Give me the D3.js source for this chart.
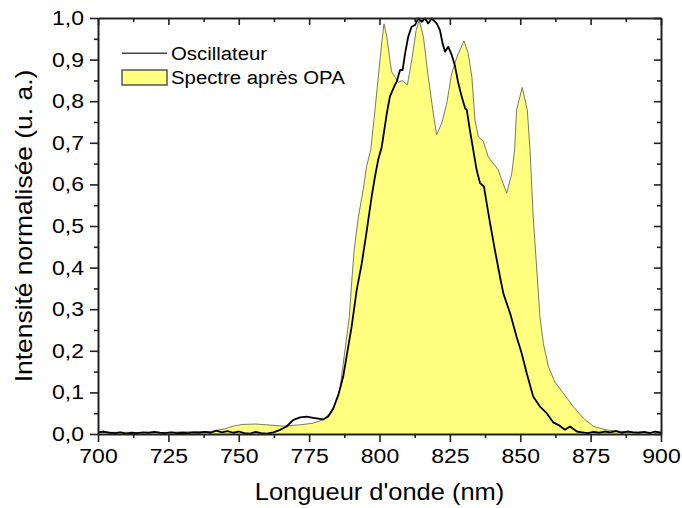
<!DOCTYPE html>
<html><head><meta charset="utf-8">
<script src="https://cdn.jsdelivr.net/npm/d3@7"></script>
<style>body{margin:0;background:#fff}svg{display:block}text{font-family:"Liberation Sans",Arial,sans-serif;fill:#000}</style>
</head><body><svg id="c" width="682" height="508"></svg>
<script>
const xTicks = [700,725,750,775,800,825,850,875,900];
const yTicks = [0,0.1,0.2,0.3,0.4,0.5,0.6,0.7,0.8,0.9,1.0];
const seriesNames = ["Oscillateur","Spectre après OPA"];
const xTitle = "Longueur d'onde (nm)";
const yTitle = "Intensité normalisée (u. a.)";

const opaWl = [700,710,720,730,740,745,748,751.5,756,760,765.7,771.8,776.4,779.9,783.5,786,787.7,789.3,790.1,791,792.5,794.2,795.4,796.9,798.4,799.6,800.8,801.6,802.6,803.7,804.3,806.7,808,809.9,811.5,813,814.1,815.6,817.3,819.1,820.3,822.1,823.9,825.6,827.4,830,831.5,832.8,833.9,835.1,836.9,838.6,839.3,842.2,843.4,845.2,847,848,848.7,850.7,852.5,853.5,854.6,855.8,857,858.2,860,862.3,865.3,868.8,872.4,876,880.7,886.5,890,895,900];
const opaVal = [0.004,0.004,0.003,0.005,0.006,0.012,0.019,0.023,0.024,0.022,0.019,0.022,0.026,0.034,0.058,0.11,0.2,0.282,0.363,0.442,0.522,0.587,0.643,0.683,0.779,0.86,0.94,0.986,0.955,0.899,0.871,0.845,0.85,0.839,0.9,0.97,0.995,0.955,0.859,0.771,0.719,0.747,0.795,0.865,0.905,0.945,0.915,0.859,0.755,0.715,0.703,0.667,0.66,0.635,0.611,0.579,0.627,0.683,0.779,0.833,0.779,0.68,0.522,0.402,0.282,0.218,0.162,0.125,0.098,0.066,0.038,0.018,0.0096,0.006,0.005,0.004,0.004];

const oscWl = [700,702,704,706,708,710,712,714,716,718,720,722,724,726,728,730,732,734,736,738,740,742,744,746,748,750,752,754,756,758,760,762.3,764.7,767,769.4,771.8,774.1,776.5,780,781.8,783.6,785.4,787.1,788.3,790.1,791.9,793.7,795.5,797.2,798.4,799.6,800.8,802.6,803.7,805.2,806.1,807.3,808.2,809.1,810.2,811.4,812.6,813.8,815,816.2,817.3,818.5,820.3,821.5,822.4,823.3,824.4,825.6,826.8,828,829.2,830.4,831,832.1,833.3,834.5,835.7,837.1,838.1,839.3,841,842.8,844,846.4,848.7,850.5,852.3,854.6,857,859.4,861.7,863.5,865.9,867.7,870.1,872,874,876,878,880,882,884,886,888,890,892,894,896,898,900];
const oscVal = [0.004,0.006,0.003,0.002,0.004,0.001,0.003,0.002,0.004,0.003,0.005,0.003,0.002,0.004,0.002,0.003,0.002,0.004,0.003,0.005,0.003,0.008,0.004,0.007,0.003,0.006,0.002,0.001,0.005,0.002,0.001,0.004,0.01,0.018,0.034,0.04,0.042,0.039,0.035,0.042,0.062,0.094,0.138,0.186,0.258,0.346,0.41,0.49,0.57,0.619,0.661,0.69,0.771,0.811,0.835,0.847,0.875,0.875,0.915,0.955,0.979,0.983,0.999,0.991,0.999,0.987,0.999,0.987,0.97,0.939,0.919,0.931,0.912,0.885,0.843,0.811,0.783,0.779,0.731,0.683,0.635,0.603,0.595,0.554,0.506,0.442,0.378,0.338,0.29,0.234,0.194,0.146,0.09,0.066,0.05,0.028,0.022,0.01,0.018,0.006,0.004,0.002,0.005,0.003,0.006,0.004,0.007,0.003,0.006,0.004,0.003,0.005,0.002,0.006,0.003];

const svg = d3.select("#c");
const L=98, R=661, T=18, B=434;
const x = d3.scaleLinear().domain([700,900]).range([L,R]);
const y = d3.scaleLinear().domain([0,1]).range([B,T]);
const fmt = d => d3.format(".1f")(d).replace(".",",");

const opa = opaWl.map((w,i)=>[w,opaVal[i]]);
const osc = oscWl.map((w,i)=>[w,oscVal[i]]);

svg.append("path").datum(opa)
  .attr("d", d3.area().x(d=>x(d[0])).y0(y(0)).y1(d=>y(d[1])))
  .attr("fill","#ffff80").attr("stroke","none");
svg.append("path").datum(opa)
  .attr("d", d3.line().x(d=>x(d[0])).y(d=>y(d[1])))
  .attr("fill","none").attr("stroke","#7a7a60").attr("stroke-width",1);
svg.append("path").datum(osc)
  .attr("d", d3.line().x(d=>x(d[0])).y(d=>y(d[1])))
  .attr("fill","none").attr("stroke","#000").attr("stroke-width",1.8).attr("stroke-linejoin","round");

const xMinor = d3.range(712.5,900,25);
const yMinor = d3.range(0.05,1,0.1);
function styleAxis(g){ g.select(".domain").attr("stroke","#222").attr("stroke-width",2); g.selectAll(".tick line").attr("stroke","#222").attr("stroke-width",1.6); }

// bottom
const gb = svg.append("g").attr("transform",`translate(0,${B})`).call(d3.axisBottom(x).tickValues(xTicks).tickSize(8).tickSizeOuter(0).tickPadding(7).tickFormat(d3.format("d")));
svg.append("g").attr("transform",`translate(0,${B})`).call(d3.axisBottom(x).tickValues(xMinor).tickSize(4).tickSizeOuter(0).tickFormat("")).call(g=>g.select(".domain").remove()).selectAll("line").attr("stroke","#222").attr("stroke-width",1.6);
// left
const gl = svg.append("g").attr("transform",`translate(${L},0)`).call(d3.axisLeft(y).tickValues(yTicks).tickSize(8).tickSizeOuter(0).tickPadding(6).tickFormat(fmt));
svg.append("g").attr("transform",`translate(${L},0)`).call(d3.axisLeft(y).tickValues(yMinor).tickSize(4).tickSizeOuter(0).tickFormat("")).call(g=>g.select(".domain").remove()).selectAll("line").attr("stroke","#222").attr("stroke-width",1.6);
// top (inward)
const gt = svg.append("g").attr("transform",`translate(0,${T})`).call(d3.axisBottom(x).tickValues(xTicks).tickSize(7).tickSizeOuter(0).tickFormat(""));
svg.append("g").attr("transform",`translate(0,${T})`).call(d3.axisBottom(x).tickValues(xMinor).tickSize(4).tickSizeOuter(0).tickFormat("")).call(g=>g.select(".domain").remove()).selectAll("line").attr("stroke","#222").attr("stroke-width",1.6);
// right (inward)
const gr = svg.append("g").attr("transform",`translate(${R},0)`).call(d3.axisLeft(y).tickValues(yTicks).tickSize(7).tickSizeOuter(0).tickFormat(""));
svg.append("g").attr("transform",`translate(${R},0)`).call(d3.axisLeft(y).tickValues(yMinor).tickSize(4).tickSizeOuter(0).tickFormat("")).call(g=>g.select(".domain").remove()).selectAll("line").attr("stroke","#222").attr("stroke-width",1.6);
[gb,gl,gt,gr].forEach(styleAxis);
svg.selectAll(".tick text").attr("font-size",20).attr("font-family","'Liberation Sans',Arial,sans-serif").attr("fill","#000");
gt.selectAll(".tick text").remove(); gr.selectAll(".tick text").remove();

// stretch helper
function stretch(sel,f){ sel.each(function(){ const w=this.getComputedTextLength(); d3.select(this).attr("textLength",w*f).attr("lengthAdjust","spacingAndGlyphs"); }); }
stretch(gb.selectAll(".tick text"),1.15);
stretch(gl.selectAll(".tick text"),1.15);

// titles
const xt = svg.append("text").attr("x",(L+R)/2).attr("y",500).attr("text-anchor","middle").attr("font-size",24).text(xTitle);
stretch(xt,1.06);
const yt = svg.append("text").attr("transform",`translate(32,${(T+B)/2}) rotate(-90)`).attr("text-anchor","middle").attr("font-size",24).text(yTitle);
stretch(yt,1.10);

// legend
const lg = svg.append("g");
lg.append("line").attr("x1",122).attr("x2",167).attr("y1",y(0.915)).attr("y2",y(0.915)).attr("stroke","#444").attr("stroke-width",1.5);
lg.append("rect").attr("x",122).attr("y",70).attr("width",45).attr("height",15).attr("fill","#ffff80").attr("stroke","#555").attr("stroke-width",1.5);
const t1 = lg.append("text").attr("x",171).attr("y",y(0.915)+6.5).attr("font-size",18).text(seriesNames[0]);
const t2 = lg.append("text").attr("x",171).attr("y",84).attr("font-size",18).text(seriesNames[1]);
stretch(t1,1.13); stretch(t2,1.13);
</script></body></html>
